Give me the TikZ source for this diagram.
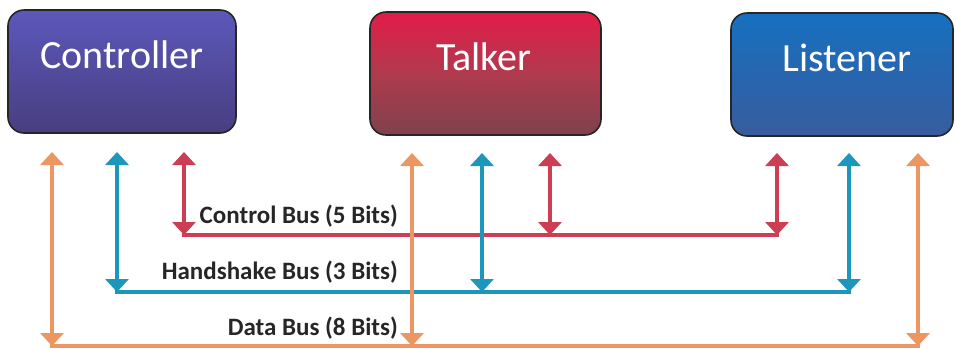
\documentclass[tikz,border=0pt]{standalone}
\usepackage{fontspec}
\setmainfont{Carlito}
\usetikzlibrary{arrows.meta}
\definecolor{busorange}{RGB}{236,150,100}
\definecolor{busteal}{RGB}{28,150,188}
\definecolor{busred}{RGB}{204,62,84}
\definecolor{ctrltop}{RGB}{92,88,186}
\definecolor{ctrlbot}{RGB}{72,62,128}
\definecolor{talktop}{RGB}{226,28,72}
\definecolor{talkmid}{RGB}{176,58,78}
\definecolor{talkbot}{RGB}{126,66,76}
\definecolor{listop}{RGB}{22,112,192}
\definecolor{lisbot}{RGB}{56,92,158}
\begin{document}
\begin{tikzpicture}[x=1pt,y=-1pt,
  unit/.style={draw=black!85, line width=1.6pt, rounded corners=16pt,
    minimum height=123pt, inner sep=0pt},
  unitlabel/.style={text=white, font=\fontsize{40}{40}\selectfont, anchor=base},
  bus/.style={line width=4pt, line cap=rect},
  link/.style={line width=4pt,
    {Triangle[width=23pt,length=13pt]}-{Triangle[width=23pt,length=13pt]}},
  buslabel/.style={font=\bfseries\fontsize{25}{25}\selectfont, text=black!85,
    anchor=base east, inner sep=0pt}]
\useasboundingbox (0,0) rectangle (955,349);

% devices
\node (ctrl) [unit, minimum width=228pt, top color=ctrltop, bottom color=ctrlbot]
  at (122,71.5) {};
\node (talk) [unit, minimum width=231pt, top color=talktop, bottom color=talkbot,
  middle color=talkmid] at (485.5,73.5) {};
\node (lis) [unit, minimum width=222pt, top color=listop, bottom color=lisbot]
  at (842,74.5) {};
\node (ctrl-t) [unitlabel] at (122,68) {Controller};
\node (talk-t) [unitlabel] at (484,70) {Talker};
\node (lis-t) [unitlabel] at (847,71) {Listener};

% arrow ends and bus taps
\coordinate (cD) at (52,152);   \coordinate (cDb) at (52,346);
\coordinate (cH) at (117,152);  \coordinate (cHb) at (117,292);
\coordinate (cC) at (184,152);  \coordinate (cCb) at (184,235);
\coordinate (tD) at (412,153);  \coordinate (tDb) at (412,346);
\coordinate (tH) at (482,153);  \coordinate (tHb) at (482,292);
\coordinate (tC) at (550,153);  \coordinate (tCb) at (550,235);
\coordinate (lC) at (777,153);  \coordinate (lCb) at (777,235);
\coordinate (lH) at (849,153);  \coordinate (lHb) at (849,292);
\coordinate (lD) at (918,153);  \coordinate (lDb) at (918,346);

% buses
\draw[bus, busred]    (cCb) -- (lCb);
\draw[bus, busteal]   (cHb) -- (lHb);
\draw[bus, busorange] (cDb) -- (lDb);

% device connections
\draw[link, busorange] (cD) -- (cDb);
\draw[link, busteal]   (cH) -- (cHb);
\draw[link, busred]    (cC) -- (cCb);
\draw[link, busorange] (tD) -- (tDb);
\draw[link, busteal]   (tH) -- (tHb);
\draw[link, busred]    (tC) -- (tCb);
\draw[link, busred]    (lC) -- (lCb);
\draw[link, busteal]   (lH) -- (lHb);
\draw[link, busorange] (lD) -- (lDb);

% bus labels
\node (lbl-c) [buslabel] at (398,223) {Control Bus (5 Bits)};
\node (lbl-h) [buslabel] at (398,279) {Handshake Bus (3 Bits)};
\node (lbl-d) [buslabel] at (398,335) {Data Bus (8 Bits)};
\end{tikzpicture}
\end{document}
